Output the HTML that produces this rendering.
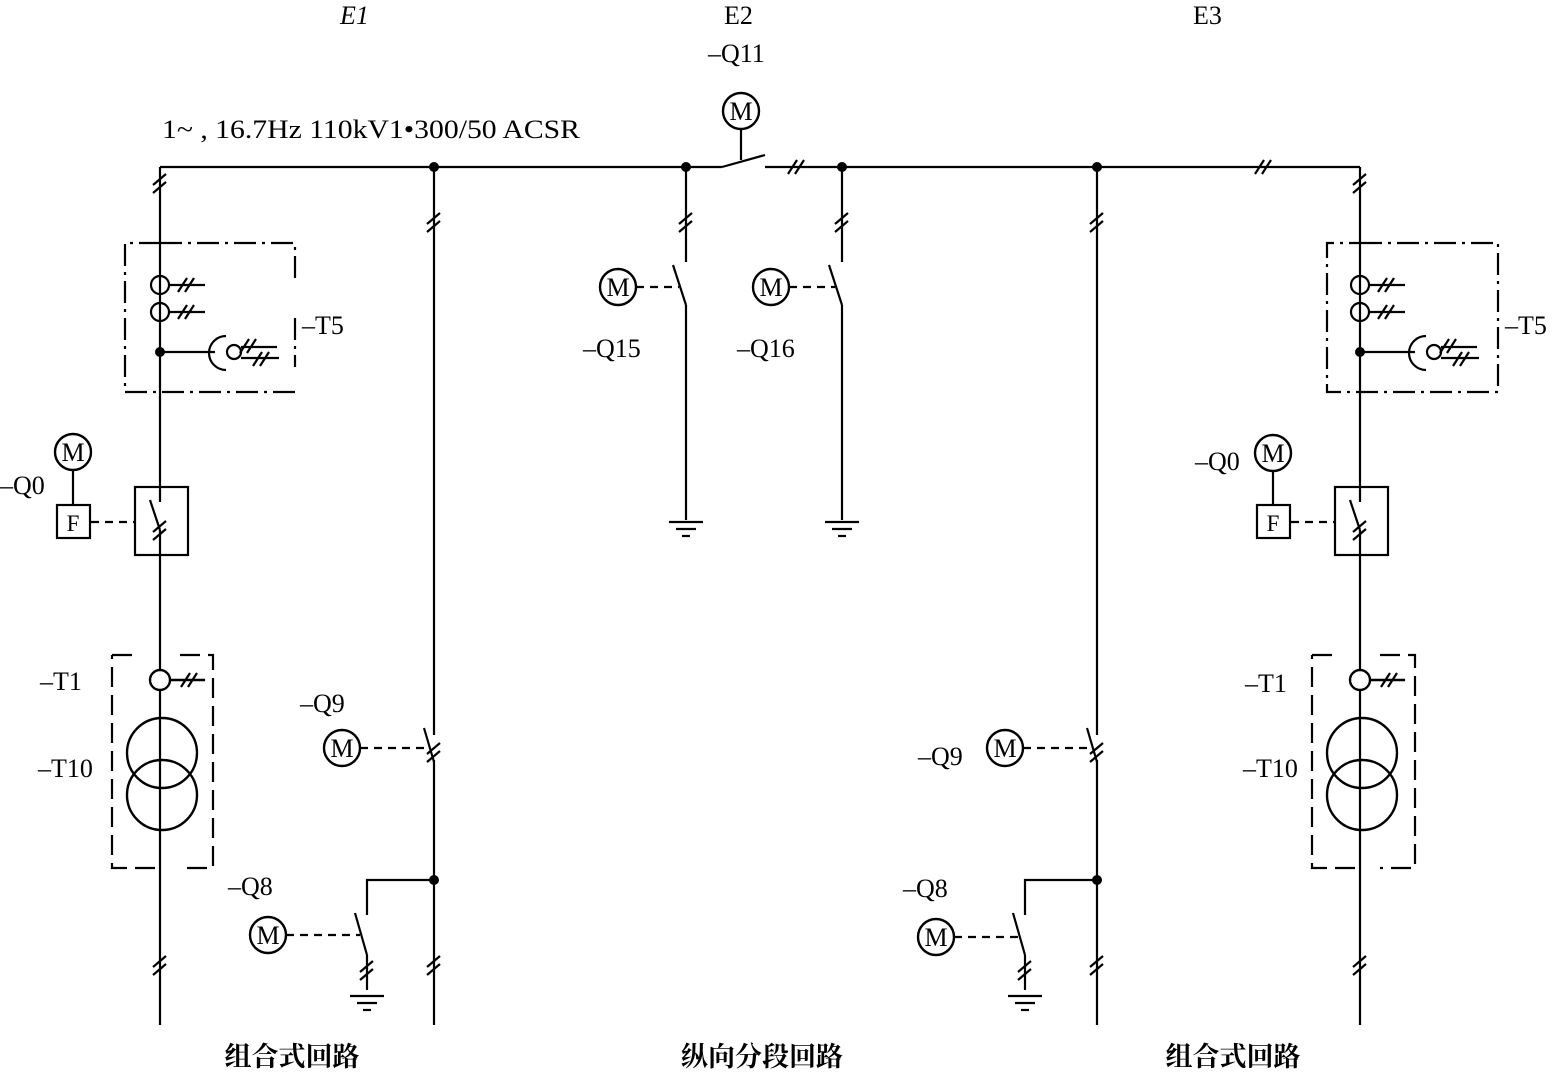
<!DOCTYPE html>
<html><head><meta charset="utf-8"><style>
body{margin:0;background:#fff}
svg{display:block}
text{font-family:"Liberation Serif","Noto Serif CJK SC",serif;fill:#000}
</style></head><body>
<svg width="1559" height="1073" viewBox="0 0 1559 1073" xmlns="http://www.w3.org/2000/svg">
<defs>
<g id="tv" stroke="#000" stroke-width="2.2"><line x1="-7" y1="2" x2="6" y2="-9"/><line x1="-7" y1="10" x2="6" y2="-1"/></g>
<g id="th" stroke="#000" stroke-width="2.2"><line x1="-7" y1="7" x2="2" y2="-7"/><line x1="0" y1="7" x2="9" y2="-7"/></g>
<g id="M"><circle r="18" fill="#fff" stroke="#000" stroke-width="2.4"/><text x="0" y="9" text-anchor="middle" font-size="26">M</text></g>
<g id="gnd" stroke="#000" stroke-width="2.2"><line x1="-17" y1="0" x2="17" y2="0"/><line x1="-10" y1="7" x2="10" y2="7"/><line x1="-4" y1="14" x2="4" y2="14"/></g>
</defs>
<g stroke="#000" stroke-width="2.2" fill="none">
<line x1="160" y1="167" x2="722" y2="167"/>
<line x1="722" y1="167" x2="765" y2="155"/>
<line x1="741" y1="129" x2="741" y2="160"/>
<line x1="765" y1="167" x2="1360" y2="167"/>
<line x1="160" y1="167" x2="160" y2="1025"/>
<line x1="434" y1="167" x2="434" y2="735"/>
<line x1="434" y1="760" x2="434" y2="1025"/>
<line x1="686" y1="167" x2="686" y2="262"/>
<line x1="686" y1="305" x2="686" y2="520"/>
<line x1="842" y1="167" x2="842" y2="262"/>
<line x1="842" y1="305" x2="842" y2="520"/>
<line x1="1097" y1="167" x2="1097" y2="735"/>
<line x1="1097" y1="760" x2="1097" y2="1025"/>
<line x1="1360" y1="167" x2="1360" y2="1025"/>
<line x1="673" y1="265" x2="686" y2="305"/>
<line x1="829" y1="265" x2="842" y2="305"/>
<line x1="636" y1="287" x2="679" y2="287" stroke-dasharray="8,6"/>
<line x1="789" y1="287" x2="835" y2="287" stroke-dasharray="8,6"/>
<line x1="424" y1="728" x2="434" y2="762"/>
<line x1="1087" y1="728" x2="1097" y2="762"/>
<line x1="360" y1="748" x2="428" y2="748" stroke-dasharray="8,6"/>
<line x1="1023" y1="748" x2="1091" y2="748" stroke-dasharray="8,6"/>
<polyline points="434,880 367,880 367,915"/>
<line x1="355" y1="913" x2="367" y2="955"/>
<line x1="367" y1="955" x2="367" y2="990"/>
<line x1="286" y1="935" x2="360" y2="935" stroke-dasharray="8,6"/>
<polyline points="1097,880 1025,880 1025,915"/>
<line x1="1013" y1="913" x2="1025" y2="955"/>
<line x1="1025" y1="955" x2="1025" y2="990"/>
<line x1="954" y1="937" x2="1018" y2="937" stroke-dasharray="8,6"/>
<path d="M160 243 H295 V282 M295 318 V367 M295 392 H125 V243 H160" stroke-dasharray="22,6,3,6"/>
<path d="M1360 243 H1498 V392 H1327 V243 H1360" stroke-dasharray="22,6,3,6"/>
<path d="M112 655 H140 M180 655 H213 V868 H180 M155 868 H112 V655" stroke-dasharray="20,8"/>
<path d="M1312 655 H1340 M1380 655 H1415 V868 H1380 M1355 868 H1312 V655" stroke-dasharray="20,8"/>
</g>
<g fill="#000"><circle cx="434" cy="167" r="5"/><circle cx="686" cy="167" r="5"/><circle cx="842" cy="167" r="5"/><circle cx="1097" cy="167" r="5"/><circle cx="434" cy="880" r="5"/><circle cx="1097" cy="880" r="5"/><circle cx="160" cy="352" r="5"/><circle cx="1360" cy="352" r="5"/></g>
<use href="#th" x="795" y="167"/><use href="#th" x="1262" y="167"/>
<use href="#tv" x="160" y="183"/><use href="#tv" x="1360" y="183"/>
<use href="#tv" x="434" y="222"/><use href="#tv" x="1097" y="222"/>
<use href="#tv" x="686" y="222"/><use href="#tv" x="842" y="222"/>
<use href="#tv" x="434" y="752"/><use href="#tv" x="1097" y="752"/>
<use href="#tv" x="160" y="965"/><use href="#tv" x="1360" y="965"/>
<use href="#tv" x="434" y="965"/><use href="#tv" x="1097" y="965"/>
<use href="#tv" x="367" y="970"/><use href="#tv" x="1025" y="970"/>
<use href="#gnd" x="686" y="522"/><use href="#gnd" x="842" y="522"/>
<use href="#gnd" x="367" y="996"/><use href="#gnd" x="1025" y="996"/>
<g id="t5" stroke="#000" stroke-width="2.2" fill="none">
<circle cx="160" cy="285" r="9"/><circle cx="160" cy="312" r="9"/>
<line x1="169" y1="285" x2="205" y2="285"/><line x1="169" y1="312" x2="205" y2="312"/>
<line x1="160" y1="352" x2="215" y2="352"/>
<path d="M226 336 A17 17 0 0 0 226 370"/>
<circle cx="234" cy="352" r="7"/>
<line x1="241" y1="347" x2="277" y2="347"/><line x1="241" y1="358" x2="279" y2="358"/>
</g>
<use href="#th" x="185" y="285"/><use href="#th" x="185" y="312"/><use href="#th" x="247" y="346"/><use href="#th" x="260" y="359"/>
<use href="#t5" x="1200" y="0"/>
<use href="#th" x="1385" y="285"/><use href="#th" x="1385" y="312"/><use href="#th" x="1447" y="346"/><use href="#th" x="1460" y="359"/>
<g id="q0" stroke="#000" stroke-width="2.2" fill="none">
<rect x="135" y="487" width="53" height="68" fill="#fff"/>
<line x1="160" y1="487" x2="160" y2="502"/>
<line x1="150" y1="500" x2="160" y2="530"/>
<line x1="160" y1="530" x2="160" y2="555"/>
<line x1="91" y1="522" x2="135" y2="522" stroke-dasharray="8,6"/>
<rect x="57" y="505" width="33" height="33"/>
<line x1="73" y1="470" x2="73" y2="505"/>
</g>
<use href="#tv" x="160" y="530"/>
<use href="#q0" x="1200" y="0"/><use href="#tv" x="1360" y="530"/>
<text x="73" y="531" text-anchor="middle" font-size="23">F</text>
<text x="1273" y="531" text-anchor="middle" font-size="23">F</text>
<g id="t1" stroke="#000" stroke-width="2.4" fill="none">
<circle cx="160" cy="680" r="10" fill="#fff"/>
<line x1="170" y1="680" x2="205" y2="680"/>
<circle cx="162" cy="753" r="35"/><circle cx="162" cy="795" r="35"/>
</g>
<use href="#th" x="188" y="680"/>
<use href="#t1" x="1200" y="0"/><use href="#th" x="1388" y="680"/>
<use href="#M" x="741" y="111"/><use href="#M" x="618" y="287"/><use href="#M" x="771" y="287"/>
<use href="#M" x="73" y="452"/><use href="#M" x="1273" y="453"/>
<use href="#M" x="342" y="748"/><use href="#M" x="1005" y="748"/>
<use href="#M" x="268" y="935"/><use href="#M" x="936" y="937"/>
<g font-size="26">
<text x="340" y="24" font-style="italic">E1</text>
<text x="724" y="24">E2</text>
<text x="1193" y="24">E3</text>
<text x="708" y="62">–Q11</text>
<text x="162" y="138" textLength="418" lengthAdjust="spacingAndGlyphs">1~ , 16.7Hz  110kV1•300/50 ACSR</text>
<text x="302" y="334">–T5</text>
<text x="1505" y="334">–T5</text>
<text x="0" y="494">–Q0</text>
<text x="1195" y="470">–Q0</text>
<text x="40" y="690">–T1</text>
<text x="38" y="777">–T10</text>
<text x="1245" y="692">–T1</text>
<text x="1243" y="777">–T10</text>
<text x="300" y="712">–Q9</text>
<text x="918" y="765">–Q9</text>
<text x="228" y="895">–Q8</text>
<text x="903" y="897">–Q8</text>
<text x="583" y="357">–Q15</text>
<text x="737" y="357">–Q16</text>
</g>
<g font-size="27" font-weight="bold" text-anchor="middle" style="font-family:'Noto Sans CJK SC',sans-serif">
<text x="292" y="1066">组合式回路</text>
<text x="762" y="1066">纵向分段回路</text>
<text x="1233" y="1066">组合式回路</text>
</g>
</svg>
</body></html>
